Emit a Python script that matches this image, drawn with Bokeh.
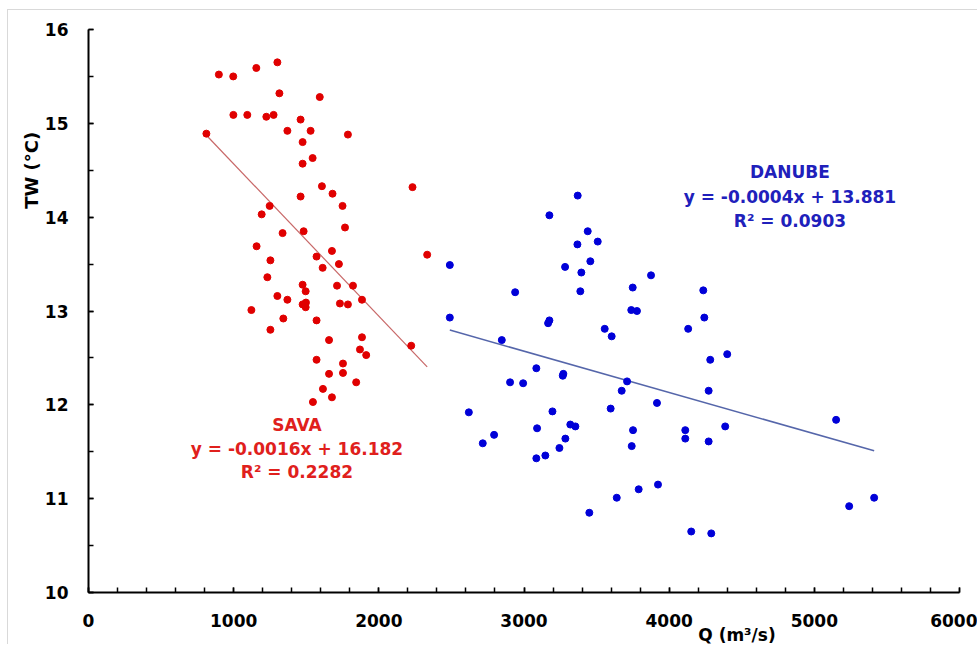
import numpy as np
from bokeh.plotting import figure
from bokeh.models import Range1d, FixedTicker, Label
from bokeh.embed import file_html
from bokeh.resources import INLINE

# ---- data ----
sava_q = [812, 898, 997, 1156, 1301, 1315, 1593, 998, 1094, 1225, 1275, 1461, 1370, 1530, 1787,
          1475, 1544, 1475, 1608, 2232, 1461, 1681, 1750, 1248, 1193, 1767, 1337, 1482, 1158, 1253,
          1571, 1677, 1613, 1725, 2333, 1232, 1475, 1496, 1712, 1822, 1301, 1370, 1475, 1498, 1496,
          1732, 1787, 1884, 1122, 1342, 1571, 1253, 1657, 1884, 1870, 1913, 2223, 1571, 1753, 1657,
          1753, 1844, 1615, 1677, 1546]
sava_t = [14.89, 15.52, 15.50, 15.59, 15.65, 15.32, 15.28, 15.09, 15.09, 15.07, 15.09, 15.04, 14.92,
          14.92, 14.88, 14.80, 14.63, 14.57, 14.33, 14.32, 14.22, 14.25, 14.12, 14.12, 14.03, 13.89,
          13.83, 13.85, 13.69, 13.54, 13.58, 13.64, 13.46, 13.50, 13.60, 13.36, 13.28, 13.21, 13.27,
          13.27, 13.16, 13.12, 13.07, 13.09, 13.04, 13.08, 13.07, 13.12, 13.01, 12.92, 12.90, 12.80,
          12.69, 12.72, 12.59, 12.53, 12.63, 12.48, 12.44, 12.33, 12.34, 12.24, 12.17, 12.08, 12.03]

danube_q = [2489, 2489, 2847, 2939, 3175, 3166, 3175, 3283, 3370, 3368, 3439, 3508, 3457, 3395, 3388,
            3556, 3604, 3749, 3739, 3778, 3875, 4131, 4235, 4242, 3085, 2904, 2994, 3271, 3267, 3710,
            3673, 3597, 3916, 4283, 4272, 2620, 3196, 2794, 2716, 3090, 3319, 3354, 3285, 3244, 3147,
            3085, 3751, 3742, 4111, 4111, 4272, 4400, 4386, 5150, 3923, 3790, 3639, 3450, 4152, 4290,
            5240, 5412]
danube_t = [13.49, 12.93, 12.69, 13.20, 14.02, 12.87, 12.90, 13.47, 14.23, 13.71, 13.85, 13.74, 13.53,
            13.41, 13.21, 12.81, 12.73, 13.25, 13.01, 13.00, 13.38, 12.81, 13.22, 12.93, 12.39, 12.24,
            12.23, 12.33, 12.31, 12.25, 12.15, 11.96, 12.02, 12.48, 12.15, 11.92, 11.93, 11.68, 11.59,
            11.75, 11.79, 11.77, 11.64, 11.54, 11.46, 11.43, 11.73, 11.56, 11.73, 11.64, 11.61, 12.54,
            11.77, 11.84, 11.15, 11.10, 11.01, 10.85, 10.65, 10.63, 10.92, 11.01]

x_ticks = [0, 1000, 2000, 3000, 4000, 5000, 6000]
y_ticks = [10, 11, 12, 13, 14, 15, 16]

sava_text = ["SAVA", "y = -0.0016x + 16.182", "R\u00b2 = 0.2282"]
danube_text = ["DANUBE", "y = -0.0004x + 13.881", "R\u00b2 = 0.0903"]
x_title = "Q (m\u00b3/s)"
y_title = "TW (\u00b0C)"

RED = "#e00000"
BLUE = "#0000d8"
RED_TXT = "#e0201c"
BLUE_TXT = "#2020bb"
FONT = "DejaVu Sans"

W, H = 977, 644
# pixel geometry of the axes inside the canvas
X0_PX, X6000_PX = 88, 959
Y16_PX, Y10_PX = 29, 592
kx = (X6000_PX - X0_PX) / 6000.0
ky = (Y10_PX - Y16_PX) / 6.0

p = figure(width=W, height=H, output_backend="svg", toolbar_location=None,
           x_range=Range1d(-X0_PX / kx, (W - X0_PX) / kx),
           y_range=Range1d(16 - (H - Y16_PX) / ky, 16 + Y16_PX / ky),
           min_border_left=0, min_border_right=0, min_border_top=0, min_border_bottom=0)
p.outline_line_color = None
p.border_fill_color = None
p.background_fill_color = None
p.xgrid.visible = False
p.ygrid.visible = False
p.styles = {"background": "linear-gradient(#d9d9d9,#d9d9d9) 7px 9px / 1px calc(100% - 9px) no-repeat, "
                          "linear-gradient(#d9d9d9,#d9d9d9) 7px 9px / calc(100% - 7px) 1px no-repeat, white"}

p.xaxis.fixed_location = 10
p.yaxis.fixed_location = 0
p.xaxis.bounds = (0, 6000)
p.yaxis.bounds = (10, 16)

for ax, ticks, minors in ((p.xaxis[0], x_ticks, list(range(0, 6001, 200))),
                          (p.yaxis[0], y_ticks, [10 + 0.5 * i for i in range(13)])):
    ax.ticker = FixedTicker(ticks=ticks, minor_ticks=minors)
    ax.axis_line_color = "black"
    ax.axis_line_width = 2
    ax.major_tick_in = 5
    ax.major_tick_out = 0
    ax.minor_tick_in = 5
    ax.minor_tick_out = 0
    ax.major_tick_line_width = 1.5
    ax.minor_tick_line_width = 1.5
    ax.major_tick_line_color = "black"
    ax.minor_tick_line_color = "black"
    ax.major_label_text_font = FONT
    ax.major_label_text_font_style = "bold"
    ax.major_label_text_font_size = "17px"
    ax.major_label_text_color = "black"
p.xaxis.major_label_standoff = 21
p.yaxis.major_label_standoff = 20

# trend lines (least squares from the points)
for q, t, col, w in ((sava_q, sava_t, "#c86868", 1.2), (danube_q, danube_t, "#5566aa", 1.5)):
    k, b = np.polyfit(q, t, 1)
    xs = np.array([min(q), max(q)])
    p.line(xs, k * xs + b, line_color=col, line_width=w)

p.scatter(sava_q, sava_t, size=7, fill_color=RED, line_color=RED)
p.scatter(danube_q, danube_t, size=7, fill_color=BLUE, line_color=BLUE)

for txt, yy in zip(sava_text, [11.79, 11.53, 11.28]):
    p.add_layout(Label(x=1436, y=yy, text=txt, text_align="center", text_baseline="middle",
                       text_font=FONT, text_font_style="bold", text_font_size="17px",
                       text_color=RED_TXT))
for txt, yy in zip(danube_text, [14.48, 14.22, 13.96]):
    p.add_layout(Label(x=4832, y=yy, text=txt, text_align="center", text_baseline="middle",
                       text_font=FONT, text_font_style="bold", text_font_size="17px",
                       text_color=BLUE_TXT))

# axis titles (the frame covers the whole canvas, so these are inside it)
p.add_layout(Label(x=-396, y=14.50, text=y_title, angle=np.pi / 2, text_align="center",
                   text_baseline="middle", text_font=FONT, text_font_style="bold",
                   text_font_size="18px", text_color="black"))
p.add_layout(Label(x=4467, y=9.549, text=x_title, text_align="center",
                   text_baseline="middle", text_font=FONT, text_font_style="bold",
                   text_font_size="17px", text_color="black"))

open("out.html", "w").write(file_html(p, INLINE))
